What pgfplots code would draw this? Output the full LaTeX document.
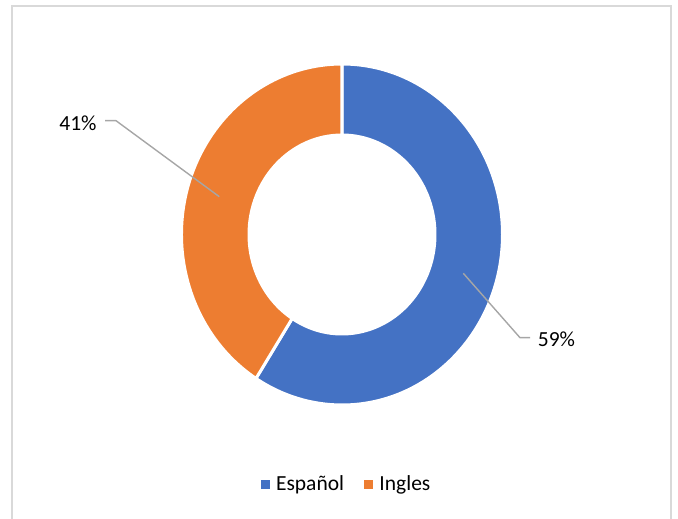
\documentclass[border=0pt]{standalone}
\usepackage{pgfplots}
\pgfplotsset{compat=1.18}
\usepackage{pgfplotstable}
\usepackage{fontspec}
\setmainfont{Carlito}

\definecolor{espblue}{HTML}{4472C4}
\definecolor{ingorange}{HTML}{ED7D31}
\definecolor{leadergray}{HTML}{A6A6A6}
\definecolor{framegray}{HTML}{D9D9D9}

% share of each language (percent)
\pgfplotstableread{
idx value
0 59
1 41
}\piedata

\begin{document}
\begin{tikzpicture}
\pgfplotstablegetelem{0}{value}\of\piedata \let\vA\pgfplotsretval
\pgfplotstablegetelem{1}{value}\of\piedata \let\vB\pgfplotsretval
\pgfmathsetmacro\total{\vA+\vB}
\pgfmathsetmacro\angA{90-\vA/\total*360}
\pgfmathsetmacro\angB{\angA-\vB/\total*360}
% ring radii (x and y)
\def\rox{160.5pt}\def\roy{170.5pt}
\def\rix{93pt}\def\riy{99.5pt}
\begin{axis}[
	x=1pt, y=1pt,
	xmin=0, xmax=678, ymin=0, ymax=519,
	hide axis, clip=false,
	legend style={at={(axis cs:346.5,35)}, anchor=center, draw=none, fill=none,
		font=\fontsize{21.5}{26}\selectfont, legend columns=2,
		/tikz/every even column/.append style={column sep=18pt}},
	legend image code/.code={\fill[#1] (0pt,-4pt) rectangle (8pt,4pt); \path (13pt,0pt);},
]
	\coordinate (SW) at (axis cs:0,0);
	\coordinate (NE) at (axis cs:678,519);
	\coordinate (C) at (axis cs:342,284.5);

	% frame
	\draw[framegray, line width=1.5pt] (axis cs:12,0) -- (axis cs:12,513) -- (axis cs:671,513) -- (axis cs:671,0);

	% Espanol slice
	\filldraw[fill=espblue, draw=white, line width=3pt, line join=miter]
		([shift={(90:\rox\space and \roy)}]C)
		arc[start angle=90, end angle=\angA, x radius=\rox, y radius=\roy]
		-- ([shift={(\angA:\rix\space and \riy)}]C)
		arc[start angle=\angA, end angle=90, x radius=\rix, y radius=\riy]
		-- cycle;
	% Ingles slice
	\filldraw[fill=ingorange, draw=white, line width=3pt, line join=miter]
		([shift={(\angA:\rox\space and \roy)}]C)
		arc[start angle=\angA, end angle=\angB, x radius=\rox, y radius=\roy]
		-- ([shift={(\angB:\rix\space and \riy)}]C)
		arc[start angle=\angB, end angle=\angA, x radius=\rix, y radius=\riy]
		-- cycle;

	% data labels
	\draw[leadergray, line width=1.4pt] (axis cs:463.3,245.7) -- (axis cs:520,181.3) -- (axis cs:530,181.3);
	\draw[leadergray, line width=1.4pt] (axis cs:219.3,322.3) -- (axis cs:116,398.3) -- (axis cs:105,398.3);
	\node[font=\fontsize{21.5}{26}\selectfont, inner sep=0pt] at (axis cs:556.5,180) {59\%};
	\node[font=\fontsize{21.5}{26}\selectfont, inner sep=0pt] at (axis cs:78,396) {41\%};

	\addlegendimage{espblue}
	\addlegendentry{Español}
	\addlegendimage{ingorange}
	\addlegendentry{Ingles}
\end{axis}
\pgfresetboundingbox
\path[use as bounding box] (SW) rectangle (NE);
\end{tikzpicture}
\end{document}
